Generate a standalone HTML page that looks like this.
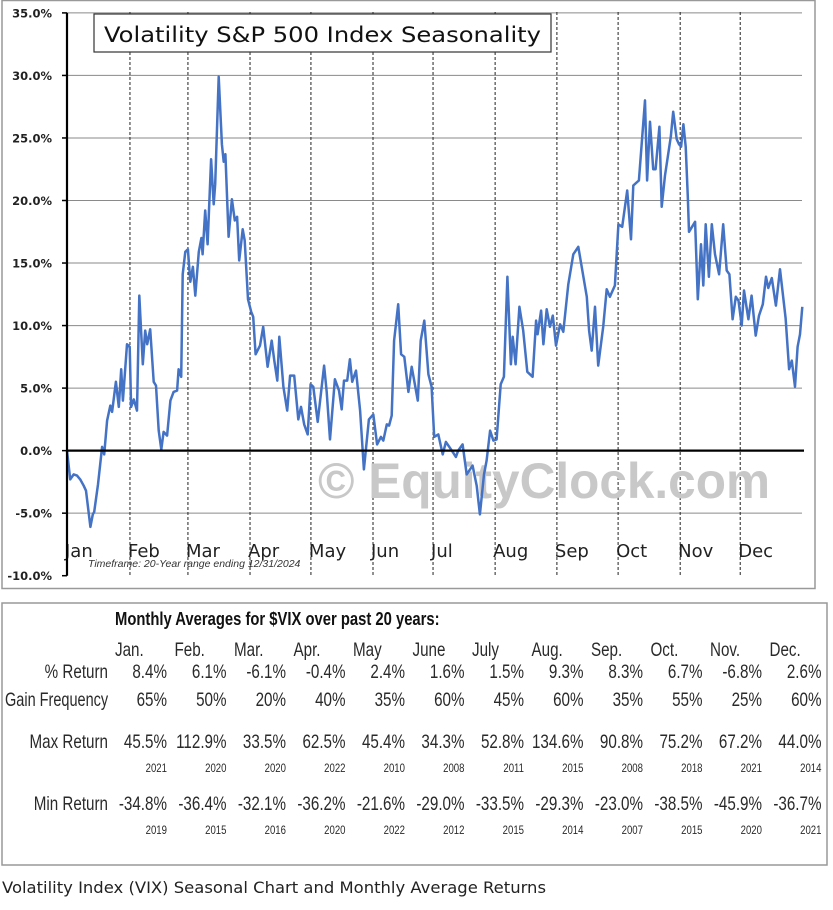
<!DOCTYPE html>
<html><head><meta charset="utf-8"><style>
html,body{margin:0;padding:0;background:#fff;}
svg{display:block;}
</style></head><body>
<svg id="root" width="833" height="910" viewBox="0 0 833 910" xmlns="http://www.w3.org/2000/svg">
<rect x="2" y="0.5" width="813" height="588" fill="#fff" stroke="#999" stroke-width="1.5"/>
<g id="grid"></g>
<g id="months"></g>
<g id="watermark">
<text x="318" y="498" font-family="Liberation Sans, sans-serif" font-weight="bold" font-size="50" fill="#c8c8c8" textLength="452" lengthAdjust="spacingAndGlyphs">© EquityClock.com</text>
</g>
<g id="series"></g>
<g id="axes"></g>
<g>
<rect x="94" y="14" width="457" height="38" fill="#fff" stroke="#333" stroke-width="1.2"/>
<text x="104" y="42" font-family="DejaVu Sans, sans-serif" font-size="21" fill="#111" textLength="437" lengthAdjust="spacingAndGlyphs">Volatility S&amp;P 500 Index Seasonality</text>
</g>
<text x="88" y="567" font-family="Liberation Sans, sans-serif" font-style="italic" font-size="10.5" fill="#333">Timeframe:  20-Year range ending 12/31/2024</text>

<rect x="2" y="603" width="825" height="262" fill="#fff" stroke="#999" stroke-width="1.5"/>
<g id="table"></g>
<text x="2" y="893" font-family="DejaVu Sans, sans-serif" font-size="16" fill="#222" textLength="544" lengthAdjust="spacingAndGlyphs">Volatility Index (VIX) Seasonal Chart and Monthly Average Returns</text>
</svg>
<script>
// ---- chart data ----
const days = [0,1.1,2.3,3.4,4.5,5.7,6.5,8.0,8.8,9.3,10.6,12.0,12.7,13.7,14.8,15.4,16.7,17.7,18.5,19.1,20.5,21.4,21.9,22.8,23.9,24.7,25.9,26.7,27.4,28.4,29.6,30.4,31.3,32.2,33.0,34.2,35.3,36.4,37.6,38.1,39.0,39.5,40.4,41.3,42.1,43.0,43.8,45.0,45.9,46.3,47.2,48.0,49.2,50.1,50.6,51.8,52.9,53.5,54.1,55.2,56.3,57.3,58.1,58.8,60.0,60.7,61.8,62.9,63.6,64.4,65.9,67.0,68.5,69.9,70.8,71.8,72.5,73.9,75.2,76.2,77.6,79.0,79.9,81.0,82.2,83.2,84.1,85.6,87.8,88.7,89.8,91.5,92.9,93.8,94.6,95.7,96.6,97.4,98.7,100.1,101.4,103.1,104.6,105.9,107.2,108.0,109.2,110.0,110.9,111.7,113.1,114.1,115.2,116.6,117.7,119.8,120.8,122.0,123.4,124.5,125.4,126.8,128.3,129.4,131.4,132.8,133.6,135.1,136.5,138.5,139.9,141.0,142.4,143.3,144.5,145.6,146.7,148.1,149.2,150.4,151.6,152.2,153.2,154.5,155.8,157.2,159.0,160.2,160.7,161.9,162.7,163.8,164.9,165.9,167.0,168.4,169.5,171.2,172.9,174.6,177.5,178.3,179.2,180.3,181.4,183.1,184.3,185.4,187.1,188.3,189.6,191.3,192.6,193.4,195.3,197.4,198.1,199.1,200.2,201.0,202.3,203.1,204.2,206.2,207.0,208.2,209.0,209.7,210.5,211.3,212.0,212.4,214.5,215.4,216.5,217.3,218.1,219.2,220.2,221.3,222.7,224.1,225.3,226.2,227.3,228.4,229.3,230.4,231.2,232.7,233.8,235.2,236.3,237.6,238.7,239.5,240.7,242.1,243.5,245.4,246.6,247.5,248.6,249.5,250.3,251.1];
const values = [0,-2.3,-1.9,-2,-2.3,-2.8,-3.2,-6.1,-5.1,-4.9,-2.7,0.3,-0.3,2.4,3.6,3.1,5.5,3.5,6.5,4,8.5,8.3,3.5,4.1,3.2,12.4,6.9,9.6,8.5,9.7,5.5,5.2,1.6,0.1,1.5,1.2,4,4.7,4.8,6.5,5.9,14.1,15.9,16.1,13.5,14.7,12.4,15.9,17,15.7,19.2,16.5,23.3,19.7,21.3,29.9,24.5,23.1,23.7,17.1,20.1,18.4,18.7,15.2,17.7,16.8,12.1,11.1,10.7,7.7,8.4,9.9,6.7,8.8,7.2,5.6,9.1,5.1,3.2,6,6,2.5,3.5,2.1,1.3,5.3,5.1,2.3,6.8,4.7,0.9,5.7,4.8,3.3,5.6,5.6,7.3,5.5,6.4,3.2,-1.5,2.5,2.9,0.5,1.1,0.8,2.1,2,2.8,8.8,11.7,7.7,7.5,4.7,6.7,4,8.8,10.4,6.1,5.1,1.1,1.3,-0.3,0.7,0,-0.5,0,0.5,-1.9,-1.2,-2.8,-5.1,-1.9,-0.8,1.6,0.8,0.9,5.3,5.9,13.9,6.9,9.1,6.9,11.5,9.6,6.3,5.9,10.4,9.3,11.2,8.5,11.3,9.9,10.8,8.4,10.1,9.5,13.3,15.7,16.3,12.3,9.6,8,11.5,6.8,9.9,12.9,12.3,13.2,18.1,17.9,20.8,16.9,21.2,21.6,28,21.6,26.3,22.5,22.5,25.9,19.5,22,25.1,27.1,24.9,24.5,24.3,26.1,24.3,20.3,17.5,18.3,12.1,16.5,13.2,18.1,13.9,18.1,15.7,14.1,18.1,14.4,14.1,10.5,12.3,12,10,12.8,10.5,12.4,9.2,10.8,11.7,13.9,13,13.8,11.6,14.5,10.6,6.5,7.2,5.1,8.3,9.3,11.5,10.9];
const monthLabels = ["Jan","Feb","Mar","Apr","May","Jun","Jul","Aug","Sep","Oct","Nov","Dec"];
const monthStartDays = [0,21.5,41.3,62.5,83.3,104.5,125,146.2,167.3,188.2,209.4,229.9];
const yTicks = [35,30,25,20,15,10,5,0,-5,-10];
const yTickLabels = ["35.0%","30.0%","25.0%","20.0%","15.0%","10.0%","5.0%","0.0%","-5.0%","-10.0%"];
const totalDays = 251;

// ---- table data ----
const tableMonths = ["Jan.","Feb.","Mar.","Apr.","May","June","July","Aug.","Sep.","Oct.","Nov.","Dec."];
const pctReturn = ["8.4%","6.1%","-6.1%","-0.4%","2.4%","1.6%","1.5%","9.3%","8.3%","6.7%","-6.8%","2.6%"];
const gainFreq = ["65%","50%","20%","40%","35%","60%","45%","60%","35%","55%","25%","60%"];
const maxReturn = ["45.5%","112.9%","33.5%","62.5%","45.4%","34.3%","52.8%","134.6%","90.8%","75.2%","67.2%","44.0%"];
const maxYear = ["2021","2020","2020","2022","2010","2008","2011","2015","2008","2018","2021","2014"];
const minReturn = ["-34.8%","-36.4%","-32.1%","-36.2%","-21.6%","-29.0%","-33.5%","-29.3%","-23.0%","-38.5%","-45.9%","-36.7%"];
const minYear = ["2019","2015","2016","2020","2022","2012","2015","2014","2007","2015","2020","2021"];

const NS = "http://www.w3.org/2000/svg";
const X0 = 67, X1 = 802, YTOP = 12.9, YBOT = 575.7, VTOP = 35, VBOT = -10;
function xScale(d){ return X0 + d * (X1 - X0) / totalDays; }
function yScale(v){ return YTOP + (VTOP - v) * (YBOT - YTOP) / (VTOP - VBOT); }
function mk(tag, attrs, parent){ const e = document.createElementNS(NS, tag); for (const k in attrs) e.setAttribute(k, attrs[k]); parent.appendChild(e); return e; }

const grid = document.getElementById('grid');
const axes = document.getElementById('axes');
yTicks.forEach((t, i) => {
  const y = yScale(t);
  if (t !== 0 && t !== VBOT) {
    const l = mk('line', {x1: X0, x2: X1, y1: y, y2: y, stroke: '#8a8a8a', 'stroke-width': 1}, grid);
    
    
  }
  const tk = mk('line', {x1: X0 - 5, x2: X0, y1: y, y2: y, stroke: '#000', 'stroke-width': 1.5}, axes);
  
  
  const tx = mk('text', {x: 52, y: y + 4.5, 'text-anchor': 'end', 'font-family': 'DejaVu Sans, sans-serif', 'font-size': 11.5, 'font-weight': 'bold', fill: '#222'}, axes);
  tx.textContent = yTickLabels[i];
  
  
});
const months = document.getElementById('months');
monthStartDays.forEach((d, i) => {
  const x = xScale(d);
  if (i > 0) {
    const l = mk('line', {x1: x, x2: x, y1: 12, y2: 575, stroke: '#222', 'stroke-width': 1, 'stroke-dasharray': '3,2'}, months);
    
    
  }
  const tx = mk('text', {x: x - 2, y: 557, 'font-family': 'DejaVu Sans, sans-serif', 'font-size': 18, fill: '#222'}, months);
  tx.textContent = monthLabels[i];
  
  
});
const zero = mk('line', {x1: X0, x2: X1 + 2, y1: yScale(0), y2: yScale(0), stroke: '#000', 'stroke-width': 2.2}, axes);


const yax = mk('line', {x1: X0, x2: X0, y1: YTOP, y2: YBOT, stroke: '#000', 'stroke-width': 2.2}, axes);



const series = document.getElementById('series');
const pts = days.map((d, i) => xScale(d).toFixed(1) + ',' + yScale(values[i]).toFixed(1)).join(' ');
const pl = mk('polyline', {points: pts, fill: 'none', stroke: '#4472c4', 'stroke-width': 2.5, 'stroke-linejoin': 'round'}, series);



// ---- table ----
const table = document.getElementById('table');
const SX = 0.8;
function ttext(str, xRight, y, size, anchor, name, extra){
  const t = mk('text', Object.assign({x: xRight / SX, y: y, 'text-anchor': anchor, 'font-family': 'Liberation Sans, sans-serif', 'font-size': size, fill: '#2a2a2a', transform: 'scale(' + SX + ',1)'}, extra || {}), table);
  t.textContent = str;
  
  
  return t;
}
ttext('Monthly Averages for $VIX over past 20 years:', 115, 625, 18.5, 'start', 'table-title', {'font-weight': 'bold', fill: '#111'});
const colRight = i => 167 + i * 59.5;
tableMonths.forEach((m, i) => ttext(m, colRight(i) - 52, 656, 19, 'start', 'table-month-header'));
ttext('% Return', 108, 678, 19, 'end', 'row-label-pct-return');
ttext('Gain Frequency', 5, 706, 19, 'start', 'row-label-gain-frequency', {textLength: 129, lengthAdjust: 'spacingAndGlyphs'});
ttext('Max Return', 108, 748, 19, 'end', 'row-label-max-return');
ttext('Min Return', 108, 810, 19, 'end', 'row-label-min-return');
pctReturn.forEach((v, i) => ttext(v, colRight(i), 678, 19, 'end', 'pct-return-cell'));
gainFreq.forEach((v, i) => ttext(v, colRight(i), 706, 19, 'end', 'gain-frequency-cell'));
maxReturn.forEach((v, i) => ttext(v, colRight(i), 748, 19, 'end', 'max-return-cell'));
maxYear.forEach((v, i) => ttext(v, colRight(i), 772, 12, 'end', 'max-return-year'));
minReturn.forEach((v, i) => ttext(v, colRight(i), 810, 19, 'end', 'min-return-cell'));
minYear.forEach((v, i) => ttext(v, colRight(i), 834, 12, 'end', 'min-return-year'));
</script>
</body></html>
